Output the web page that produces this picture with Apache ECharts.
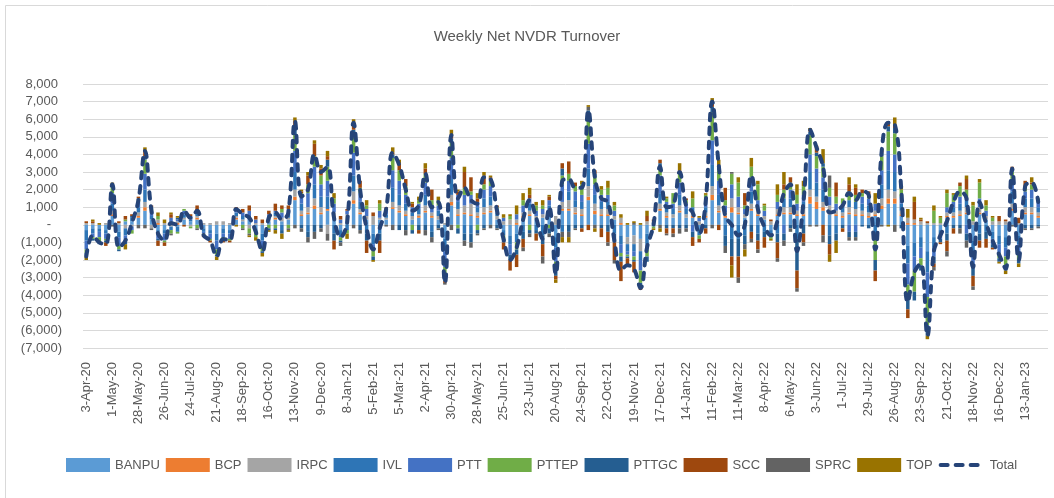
<!DOCTYPE html>
<html>
<head>
<meta charset="utf-8">
<title>Weekly Net NVDR Turnover</title>
<script src="https://cdn.jsdelivr.net/npm/echarts@6/dist/echarts.min.js"></script>
<style>
  html, body { margin: 0; padding: 0; background: #fff; }
  #chart { width: 1054px; height: 498px; }
</style>
</head>
<body>
<div id="chart"></div>
<script>
// tick labels shown on the axis (every 4th week)
var tickLabels = ['3-Apr-20','1-May-20','28-May-20','26-Jun-20','24-Jul-20','21-Aug-20','18-Sep-20','16-Oct-20',
  '13-Nov-20','9-Dec-20','8-Jan-21','5-Feb-21','5-Mar-21','2-Apr-21','30-Apr-21','28-May-21','25-Jun-21',
  '23-Jul-21','20-Aug-21','24-Sep-21','22-Oct-21','19-Nov-21','17-Dec-21','14-Jan-22','11-Feb-22','11-Mar-22',
  '8-Apr-22','6-May-22','3-Jun-22','1-Jul-22','29-Jul-22','26-Aug-22','23-Sep-22','21-Oct-22','18-Nov-22',
  '16-Dec-22','13-Jan-23'];

var seriesNames = ['BANPU','BCP','IRPC','IVL','PTT','PTTEP','PTTGC','SCC','SPRC','TOP'];
var seriesColors = ['#5B9BD5','#ED7D31','#A5A5A5','#2E75B6','#4472C4','#70AD47','#255E91','#9E480E','#636363','#997300'];

var banpu = [-300,-200,-200,-300,500,-400,200,200,400,800, 300,-300,-300,200,-100,300,200,300,-200,-300,
  -500,-200,-300,300,200,300,-200,-500,200,300, 200,300,1400,500,600,900,600,800,400,-300,
  200,1200,600,300,-500,300,300,900,700,500, 300,400,700,400,300,-800,1100,500,600,500,
  400,600,700,300,-300,-600,-500,400,500,300, 400,500,-700,800,800,600,500,1400,600,500,
  500,300,-600,-700,-600,-800,-500,100,800,400, 400,700,400,400,-300,400,1400,700,400,700,
  600,400,800,500,300,-300,500,600,600,500, 500,1200,900,800,600,500,400,600,500,500,
  400,500,900,1200,1200,500,-1200,-1000,-700,-1500, -700,-300,400,400,500,600,-900,600,300,-400,
  -600,-700,800,-600,600,600,400];
var bcp = [0,0,0,0,100,0,0,0,100,200, 0,100,0,0,100,0,0,100,0,0,
  0,0,0,100,0,0,0,0,0,100, 0,0,200,100,100,200,100,100,100,0,
  0,200,100,0,0,0,0,100,100,100, 0,100,100,100,0,0,200,100,100,100,
  100,100,100,0,0,0,100,100,100,0, 0,100,0,100,100,100,100,200,200,100,
  100,0,100,0,0,0,0,0,100,100, 0,100,0,100,0,100,300,100,100,300,
  100,0,100,100,0,0,100,100,100,100, 100,400,400,200,100,100,100,100,100,100,
  100,100,200,300,300,100,100,100,0,0, 0,0,100,100,100,100,0,100,0,0,
  0,0,100,0,100,100,100];
var irpc = [100,100,0,100,200,100,-200,-100,200,300, -200,200,100,-100,100,100,-100,100,100,100,
  200,200,100,100,100,-200,100,100,100,100, 200,100,400,200,300,400,300,-500,200,100,
  400,500,200,200,500,100,100,300,300,200, 200,100,300,200,200,100,400,300,400,600,
  200,300,300,200,200,300,200,200,200,200, 200,200,500,400,500,300,300,600,400,300,
  300,200,300,-400,-500,-700,200,100,300,200, 200,300,200,200,200,200,500,300,200,500,
  300,200,300,300,200,200,300,300,300,200, 300,400,300,300,400,200,200,300,300,200,
  200,200,400,500,400,200,300,200,200,100, 100,100,200,200,200,300,200,300,200,200,
  200,200,300,100,300,300,200];
var ivl = [-600,-300,-200,-200,400,-300,-400,200,300,700, 200,-200,-200,-200,-300,200,100,200,-200,-200,
  -400,-300,-200,200,200,200,-200,-400,200,200, -300,300,1000,400,-400,800,600,700,-500,-400,
  -300,900,400,-500,-600,-500,200,800,600,400, 200,300,600,-400,300,-700,900,400,-500,-500,
  300,500,500,200,-300,-500,-500,-400,400,-300, -600,300,-600,-400,500,400,400,1000,500,400,
  400,-500,-500,-400,-400,-500,-600,-100,600,300, 300,600,300,300,-300,300,1200,600,-600,-800,
  -800,-600,700,-500,-400,-200,-500,500,500,-800, 400,1000,800,700,-600,-500,300,400,400,400,
  400,-600,800,1100,1100,400,-1000,-800,-600,-1200, -600,-300,-500,300,400,500,-700,-500,-400,-400,
  -500,-600,700,-500,500,500,300];
var ptt = [-500,-200,-300,-300,600,-500,-300,-200,300,900, 300,-300,-400,200,100,200,200,100,-100,-300,
  -500,-200,-300,200,200,300,200,-400,100,100, 300,200,1200,400,800,1000,700,900,500,200,
  200,1300,500,400,-300,400,200,1000,800,500, 300,300,700,400,300,-900,1200,400,600,500,
  300,500,600,200,200,-600,300,400,300,300, 300,300,-800,1000,600,500,400,1400,600,400,
  400,300,-500,-200,-300,-600,-300,0,1000,300, 300,700,300,-400,200,400,1400,800,400,800,
  600,300,800,500,300,-200,400,-500,500,400, 400,1000,800,700,500,400,200,-400,-400,400,
  400,400,800,1100,1000,400,-1200,-800,-600,-1400, -500,-200,300,300,400,-500,-800,500,300,-300,
  -500,-500,700,-500,400,500,300];
var pttep = [-200,-100,-300,-100,400,-200,100,-200,100,800, 100,200,-100,-200,-100,100,-100,-200,-100,-100,
  -300,-200,-100,0,-200,-300,-300,-200,-200,-200, 200,-200,900,200,500,600,500,800,300,-200,
  -200,1000,300,200,-400,400,100,700,600,500, -300,200,500,300,300,-400,900,-200,400,200,
  -300,300,300,100,-200,200,-400,300,-300,300, 200,-200,-400,500,400,300,600,1500,400,300,
  400,300,-200,-100,-200,-700,-400,-100,500,200, 600,600,200,500,-200,300,1600,600,300,600,
  800,200,600,900,300,-100,400,500,400,500, 500,1100,700,600,500,400,300,500,400,200,
  200,-1400,800,1100,1200,400,-800,-1200,-400,-1600, 700,300,800,400,600,500,900,900,300,200,
  -300,-600,400,-400,200,300,200];
var pttgc = [-200,-100,-100,-100,100,-100,-200,100,100,200, 100,-100,0,0,100,0,0,0,0,0,
  -100,0,0,0,0,0,0,-100,-100,-100, -200,0,300,-200,-300,-400,-200,400,-400,-100,
  0,300,-300,-400,-200,-400,0,200,-300,-300, -200,-300,-300,-300,-200,-400,200,-300,-400,-500,
  -200,-200,100,-200,-200,-300,-300,-400,-200,-200, -500,-300,-400,400,-400,-200,-200,400,200,-200,
  -400,-500,-300,-100,-100,-300,-300,0,200,-200, -200,-200,-200,-300,0,-200,300,200,-600,-1000,
  -1000,-500,-400,-400,-300,0,-500,-400,-200,-1800, -500,200,200,200,-500,-400,-200,-300,-300,-100,
  -200,-600,200,300,300,-200,-600,-500,-300,-600, -400,-200,-400,-200,-200,-400,-500,-400,-400,-200,
  -200,-200,200,-200,-200,-200,-100];
var scc = [100,100,0,-200,0,100,200,100,100,300, 100,-300,-200,200,0,-100,100,300,-100,-100,
  0,-100,-100,100,200,300,200,200,200,400, 200,200,500,100,500,700,400,200,-500,200,
  100,400,400,-700,200,-700,100,100,400,400, 200,-200,300,600,0,-100,200,200,900,800,
  200,500,100,100,-400,-600,-700,-500,200,-400, -700,200,-200,300,700,200,-200,-300,200,-500,
  -600,-1000,-1100,-500,-600,-100,300,100,200,-300, -300,100,100,-500,-200,-300,300,-300,700,-500,
  -1200,700,-400,-500,-600,100,-900,300,300,-1000, -500,100,400,-600,-600,800,-200,400,400,200,
  200,-600,100,200,200,0,-500,1000,100,100, -200,-100,-600,-300,200,600,-600,-400,-500,-100,
  300,100,100,300,400,100,0];
var sprc = [0,0,0,0,-100,0,0,0,-200,-200, -100,0,0,-100,0,0,0,-100,0,0,
  0,0,0,0,-100,-100,0,0,0,0, 0,-100,-200,-200,-300,-400,-200,-400,0,-200,
  0,-200,-200,0,0,0,-100,-300,0,-300, 0,0,-300,-300,-100,-100,-300,0,-300,-300,
  -100,-100,-200,-100,0,0,0,-200,-200,0, -400,-200,0,-300,-300,-100,0,200,-200,0,
  -200,-200,0,0,100,0,0,0,-200,-100, -200,-300,-200,0,0,0,-200,100,-400,100,
  -300,-300,-200,-200,0,0,-200,-300,-200,-200, -200,-100,-100,-400,700,0,0,-200,-200,0,
  0,0,-100,100,-400,0,0,0,0,0, -200,0,-300,0,-300,-400,-200,0,0,0,
  0,0,-100,0,-100,-100,-100];
var top_ = [-200,100,100,0,100,0,-300,0,0,200, 0,200,200,100,100,0,0,0,0,0,
  -200,0,0,-100,0,-100,-200,-200,-100,-200, -300,-100,200,100,200,200,200,300,300,0,
  -300,200,0,300,-100,200,0,300,200,0, 100,200,300,0,200,0,300,100,300,0,
  300,200,100,0,200,100,500,400,400,200, 300,100,-200,-300,-300,0,200,100,-200,200,
  400,200,200,100,100,100,300,-100,-200,100, 0,400,0,400,100,100,200,300,0,-700,
  300,-400,500,200,100,-100,600,700,0,600, 300,100,0,800,-400,-700,0,400,200,0,
  0,600,100,-100,400,200,500,300,100,-200, 300,100,200,100,0,200,200,200,300,100,
  -100,-200,0,-200,0,300,0];

// net total
var total = [-1800,-600,-1000,-1100,2300,-1300,-900,100,1400,4200, 800,-500,-900,100,0,800,400,800,-600,-900,
  -1800,-800,-900,900,600,400,-400,-1500,400,700, 300,700,5900,1600,2000,4000,3000,3300,400,-700,
  100,5800,2000,-200,-1400,-200,900,4100,3400,2000, 800,1100,2900,1000,1300,-3300,5100,1500,2100,1400,
  1200,2700,2600,800,-800,-2000,-1300,300,1400,400, -800,1000,-2800,2500,2600,2100,2100,6500,2700,1500,
  1300,-900,-2600,-2300,-2500,-3600,-1300,0,3300,1000, 1100,3000,1100,700,-500,1300,7000,3400,500,0,
  -600,0,2800,900,-100,-600,200,1800,2300,-1500, 1300,5400,4400,3300,700,800,1100,1800,1400,1900,
  1700,-1400,4200,5800,5700,2000,-4400,-2700,-2200,-6300, -1500,-600,200,1300,1900,1500,-2400,1300,100,-900,
  -1700,-2500,3200,-2000,2200,2400,1300];

var seriesData = [banpu, bcp, irpc, ivl, ptt, pttep, pttgc, scc, sprc, top_];

// weekly categories: each tick label followed by the three weeks after it
var months = ['Jan','Feb','Mar','Apr','May','Jun','Jul','Aug','Sep','Oct','Nov','Dec'];
function parseLabel(s) {
  var p = s.split('-');
  return new Date(Date.UTC(2000 + parseInt(p[2], 10), months.indexOf(p[1]), parseInt(p[0], 10)));
}
function fmtDate(d) {
  return d.getUTCDate() + '-' + months[d.getUTCMonth()] + '-' + String(d.getUTCFullYear()).slice(2);
}
var weeks = [];
tickLabels.forEach(function (lbl) {
  weeks.push(lbl);
  var d0 = parseLabel(lbl);
  for (var k = 1; k < 4; k++) {
    weeks.push(fmtDate(new Date(d0.getTime() + k * 7 * 86400000)));
  }
});

function thousands(v) {
  return String(v).replace(/\B(?=(\d{3})+(?!\d))/g, ',');
}

var textColor = '#595959';
var fontFam = '"Liberation Sans", Arial, sans-serif';

var series = seriesNames.map(function (name, i) {
  return {
    name: name,
    type: 'bar',
    stack: 'net',
    barWidth: 3.5,
    data: seriesData[i],
    itemStyle: { color: seriesColors[i] }
  };
});
series.push({
  name: 'Total',
  type: 'line',
  data: total,
  smooth: 0.4,
  symbol: 'none',
  z: 5,
  lineStyle: { color: '#264478', width: 4, type: [6.5, 7.5], cap: 'round', join: 'round' },
  itemStyle: { color: '#264478' }
});

// bars get a flat swatch, the total keeps only its dashed line (symbol hidden)
var legendData = seriesNames.map(function (n) { return { name: n, icon: 'rect' }; });
legendData.push({
  name: 'Total',
  itemStyle: { opacity: 0 },
  lineStyle: { color: '#264478', width: 4, type: [7, 8], cap: 'round' }
});

var chart = echarts.init(document.getElementById('chart'));
chart.setOption({
  animation: false,
  backgroundColor: '#fff',
  textStyle: { fontFamily: fontFam },
  title: {
    text: 'Weekly Net NVDR Turnover',
    left: 'center',
    top: 24,
    textStyle: { fontSize: 15, fontWeight: 'normal', color: textColor, fontFamily: fontFam }
  },
  graphic: [{
    type: 'rect',
    silent: true,
    shape: { x: 5.5, y: 5.5, width: 1100, height: 600 },
    style: { fill: 'none', stroke: '#d9d9d9', lineWidth: 1 }
  }],
  legend: {
    data: legendData,
    left: 61,
    top: 453,
    itemWidth: 44,
    itemHeight: 14,
    itemGap: 6,
    textStyle: { fontSize: 13, color: textColor, fontFamily: fontFam }
  },
  grid: { left: 83, right: 6, top: 84, bottom: 150, containLabel: false },
  xAxis: {
    type: 'category',
    data: weeks,
    boundaryGap: true,
    axisLine: { show: false, onZero: false },
    axisTick: { show: false },
    axisLabel: {
      interval: 3,
      rotate: 90,
      margin: 14,
      fontSize: 13,
      color: textColor,
      fontFamily: fontFam
    }
  },
  yAxis: {
    type: 'value',
    min: -7000,
    max: 8000,
    interval: 1000,
    axisLine: { show: false },
    axisTick: { show: false },
    splitLine: { lineStyle: { color: '#d9d9d9', width: 1 } },
    axisLabel: {
      margin: 21,
      fontSize: 13,
      color: textColor,
      fontFamily: fontFam,
      formatter: function (v) {
        if (v === 0) return '{z|-}';
        if (v > 0) return '{p|' + thousands(v) + '}';
        return '(' + thousands(-v) + ')';
      },
      rich: {
        z: { fontSize: 13, color: textColor, fontFamily: fontFam, padding: [0, 11, 0, 0] },
        p: { fontSize: 13, color: textColor, fontFamily: fontFam, padding: [0, 4, 0, 0] }
      }
    }
  },
  series: series
});
</script>
</body>
</html>
